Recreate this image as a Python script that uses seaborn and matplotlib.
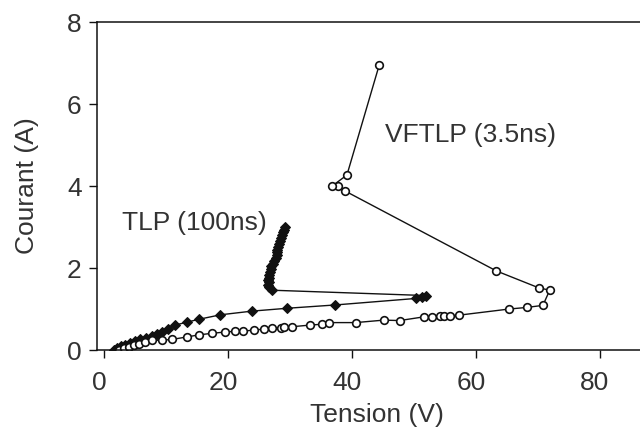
import matplotlib
matplotlib.use("Agg")
import matplotlib.pyplot as plt
from matplotlib.transforms import ScaledTranslation
import seaborn as sns
import pandas as pd

sns.set_theme(style="white")
plt.rcParams["font.family"] = ["Liberation Sans", "DejaVu Sans"]

# TLP (100 ns) I-V characteristic
tlp_v = [1.6, 2.2, 2.8, 3.4, 4.2, 5.0, 5.9, 6.8, 7.7, 8.6, 9.4, 10.4, 11.5, 13.4,
         15.3, 18.8, 23.9, 29.6, 37.3, 50.4, 51.3, 51.9,
         27.1, 26.6, 26.5, 26.6, 26.5, 26.7, 26.6, 26.8, 26.9, 27.0, 27.2, 27.5,
         27.8, 27.9, 28.0, 27.9, 28.1, 28.3, 28.4, 28.5, 28.7, 28.9, 29.0, 29.2]
tlp_i = [0.00, 0.05, 0.09, 0.13, 0.17, 0.21, 0.26, 0.30, 0.35, 0.40, 0.45, 0.52,
         0.61, 0.68, 0.75, 0.86, 0.95, 1.02, 1.10, 1.26, 1.30, 1.33,
         1.46, 1.53, 1.59, 1.65, 1.71, 1.77, 1.83, 1.90, 1.97, 2.04, 2.10, 2.17,
         2.24, 2.31, 2.38, 2.45, 2.52, 2.59, 2.66, 2.73, 2.80, 2.87, 2.93, 2.99]

# VFTLP (3.5 ns) I-V characteristic
vf_v = [2.5, 3.2, 4.0, 4.8, 5.6, 6.7, 7.8, 9.4, 11.0, 13.4, 15.3, 17.5, 19.6,
        21.2, 22.5, 24.2, 25.8, 27.1, 28.5, 29.0, 30.4, 33.3, 35.2, 36.3, 40.6,
        45.1, 47.7, 51.6, 52.9, 54.2, 54.8, 55.9, 57.2, 65.3, 68.2, 70.8,
        71.9, 70.1, 63.3, 38.9, 37.8, 36.8, 39.2, 44.4]
vf_i = [0.00, 0.04, 0.08, 0.12, 0.16, 0.20, 0.24, 0.24, 0.26, 0.32, 0.37, 0.41,
        0.44, 0.46, 0.46, 0.49, 0.51, 0.53, 0.54, 0.57, 0.57, 0.61, 0.63, 0.67,
        0.67, 0.73, 0.72, 0.81, 0.81, 0.82, 0.83, 0.84, 0.85, 1.00, 1.04, 1.09,
        1.46, 1.52, 1.93, 3.88, 4.00, 4.00, 4.27, 6.95]

x_ticks = [0, 20, 40, 60, 80]
y_ticks = [0, 2, 4, 6, 8]

tlp = pd.DataFrame({"Tension": tlp_v, "Courant": tlp_i})
vf = pd.DataFrame({"Tension": vf_v, "Courant": vf_i})

fig = plt.figure(figsize=(6.4, 4.42), dpi=100)
ax = fig.add_axes([0.1516, 0.208, 0.874, 0.742])

ink = "#111111"
sns.lineplot(data=tlp, x="Tension", y="Courant", sort=False, estimator=None,
             color=ink, linewidth=1.0, marker="D", markersize=5,
             markerfacecolor=ink, markeredgecolor=ink, ax=ax)
sns.lineplot(data=vf, x="Tension", y="Courant", sort=False, estimator=None,
             color=ink, linewidth=1.0, marker="o", markersize=5.5,
             markerfacecolor="white", markeredgecolor=ink,
             markeredgewidth=1.2, ax=ax)

ax.set_xlim(-1.1, 89.1)
ax.set_ylim(0, 8)
ax.set_xticks(x_ticks)
ax.set_yticks(y_ticks)

txt = "#333333"
fs = 19
ax.tick_params(axis="both", direction="out", length=6, width=1, color=ink,
               labelsize=fs, labelcolor=txt, bottom=True, left=True)
ax.tick_params(axis="x", pad=9)
ax.tick_params(axis="y", pad=5)
ax.set_xlabel("Tension (V)", fontsize=fs, color=txt, labelpad=6)
ax.set_ylabel("Courant (A)", fontsize=fs, color=txt, labelpad=20)

# nudge the x tick labels slightly to the left of their ticks
shift = ScaledTranslation(-5 / 100, 0, fig.dpi_scale_trans)
for lab in ax.get_xticklabels():
    lab.set_transform(lab.get_transform() + shift)

for side in ["left", "bottom", "top"]:
    ax.spines[side].set_color(ink)
    ax.spines[side].set_linewidth(1.1)
ax.spines["right"].set_visible(False)

ax.text(45.4, 5.24, "VFTLP (3.5ns)", fontsize=fs, color=txt, va="center", ha="left")
ax.text(3.0, 3.1, "TLP (100ns)", fontsize=fs, color=txt, va="center", ha="left")

fig.savefig("out.png", dpi=100)
